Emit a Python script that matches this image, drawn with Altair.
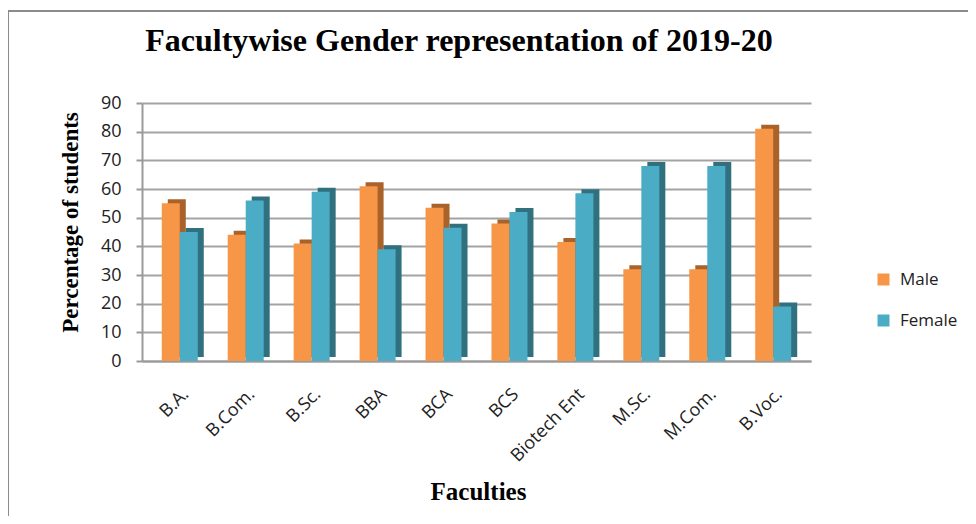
import altair as alt
import pandas as pd

faculties = ["B.A.", "B.Com.", "B.Sc.", "BBA", "BCA", "BCS", "Biotech Ent", "M.Sc.", "M.Com.", "B.Voc."]
male = [55, 44, 41, 61, 53.5, 48, 41.5, 32, 32, 81]
female = [45, 56, 59, 39, 46.5, 52, 58.5, 68, 68, 19]
genders = ["Male", "Female"]
colors = ["#F79646", "#4BACC6"]
dark_colors = ["#A8622A", "#31717F"]
y_ticks = list(range(0, 100, 10))
chart_title = "Facultywise Gender representation of 2019-20"

rows = []
for i, f in enumerate(faculties):
    rows.append({"Faculty": f, "Gender": "Male", "Percent": male[i]})
    rows.append({"Faculty": f, "Gender": "Female", "Percent": female[i]})
df = pd.DataFrame(rows)

W, H = 669, 258
GRAY = "#9a9a9a"

x_enc = alt.X(
    "Faculty:N", sort=faculties,
    scale=alt.Scale(paddingInner=0.454, paddingOuter=0.30),
    axis=alt.Axis(
        title="Faculties", labelAngle=-45, labelAlign="right", labelBaseline="top",
        labelFont="Open Sans", labelFontSize=18, labelColor="#222222", labelPadding=24,
        ticks=False, grid=False, domainColor=GRAY, domainWidth=2,
        titleFont="Liberation Serif", titleFontSize=25, titleFontWeight="bold",
        titleColor="black", titleX=336, titleY=138, titleBaseline="alphabetic",
        titleAlign="center",
    ),
)
y_enc = alt.Y(
    "Percent:Q", scale=alt.Scale(domain=[0, 90], nice=False),
    axis=alt.Axis(
        values=y_ticks, title="Percentage of students",
        grid=True, gridColor="#a3a3a3", gridWidth=2,
        domainColor=GRAY, domainWidth=2, tickColor=GRAY, tickSize=6, tickWidth=2,
        labelFont="Open Sans", labelFontSize=18, labelColor="#222222", labelPadding=15,
        titleFont="Liberation Serif", titleFontSize=23, titleFontWeight="bold",
        titleColor="black", titleX=-60, titleY=119, titleAlign="center",
    ),
)
xoff_main = alt.XOffset("Gender:N", sort=genders,
                        scale=alt.Scale(domain=genders, range=[0, 36], paddingInner=0, paddingOuter=0))
xoff_shadow = alt.XOffset("Gender:N", sort=genders,
                          scale=alt.Scale(domain=genders, range=[6, 42], paddingInner=0, paddingOuter=0))

shadow = alt.Chart(df).mark_bar(yOffset=-4).encode(
    x=x_enc, xOffset=xoff_shadow, y=y_enc,
    fill=alt.condition(alt.datum.Gender == "Male", alt.value(dark_colors[0]), alt.value(dark_colors[1])),
)
main = alt.Chart(df).mark_bar().encode(
    x=x_enc, xOffset=xoff_main, y=y_enc,
    color=alt.Color(
        "Gender:N", sort=genders,
        scale=alt.Scale(domain=genders, range=colors),
        legend=alt.Legend(
            title=None, orient="none", legendX=733, legendY=168,
            symbolType="square", symbolSize=144, symbolStrokeWidth=0,
            labelFont="Open Sans", labelFontSize=17, labelColor="#222222",
            labelOffset=8, rowPadding=23,
        ),
    ),
)

one = pd.DataFrame({"k": [0]})
frame = alt.Chart(one).mark_rect(
    fill="transparent", stroke="#8c8c8c", strokeWidth=2
).encode(x=alt.value(-134), x2=alt.value(1000), y=alt.value(-92), y2=alt.value(700))

title_text = alt.Chart(one).mark_text(
    font="Liberation Serif", fontSize=32, fontWeight="bold", color="black",
    align="center", baseline="alphabetic",
).encode(x=alt.value(317), y=alt.value(-52), text=alt.value(chart_title))

chart = alt.layer(frame, shadow, main, title_text).resolve_scale(xOffset="independent").properties(
    width=W, height=H,
    padding={"left": 134, "top": 95, "right": 157, "bottom": 155},
    autosize=alt.AutoSizeParams(type="none"),
).configure_view(strokeWidth=0)

chart.save("out.html", embed_options={"renderer": "svg", "actions": False})
